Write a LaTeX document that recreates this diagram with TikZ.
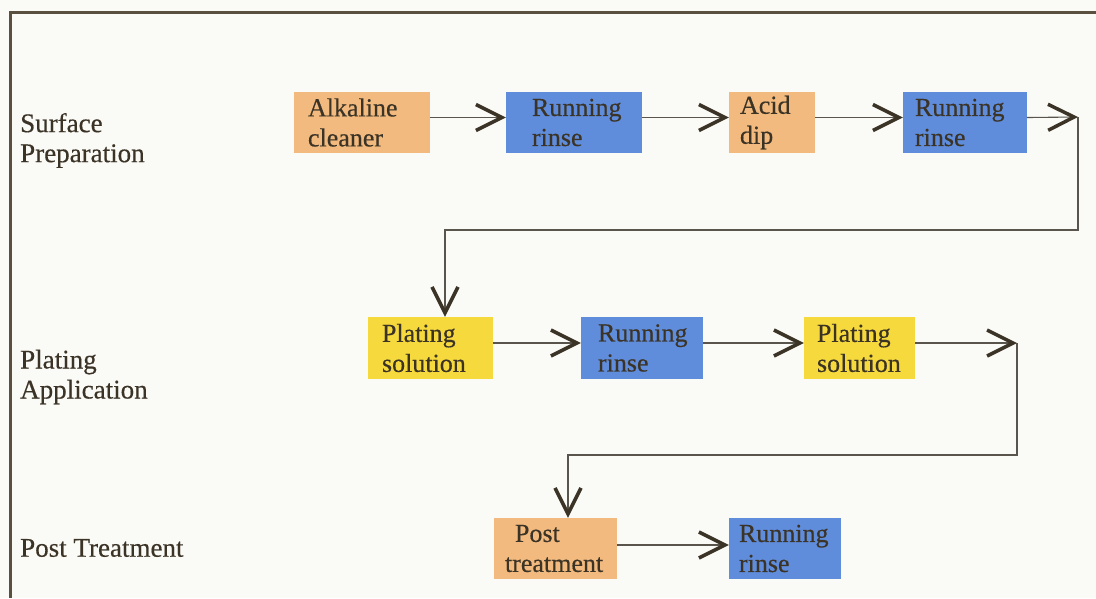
\documentclass[tikz,border=0pt]{standalone}
\usepackage{fontspec}
\setmainfont{Liberation Serif}[FakeBold=0.4]
\usetikzlibrary{arrows.meta,calc}
\definecolor{bg}{HTML}{FAFAF7}
\definecolor{frame}{HTML}{5A5040}
\definecolor{ink}{HTML}{3B3326}
\definecolor{peach}{HTML}{F2BA7E}
\definecolor{bluebox}{HTML}{5F8DDC}
\definecolor{yellowbox}{HTML}{F6D93C}
\definecolor{wire}{HTML}{5A554C}
\tikzset{
  stepbox/.style={minimum height=61pt, inner xsep=11pt, inner ysep=0pt, align=flush left,
    text width=#1, font=\fontsize{26}{30}\selectfont, text=ink, anchor=center},
  cleaner/.style={stepbox=#1, fill=peach},
  rinse/.style={stepbox=#1, fill=bluebox},
  plating/.style={stepbox=#1, fill=yellowbox},
  rowlabel/.style={anchor=west, align=left, font=\fontsize{27}{30}\selectfont, text=ink, inner sep=0pt},
  wireline/.style={draw=wire, line width=1.1pt},
  flow/.style={wireline, -{Straight Barb[length=26pt,width=26pt,line width=3.5pt,color=ink]}}
}
\begin{document}
\begin{tikzpicture}[x=1pt,y=-1pt]
\useasboundingbox (0,0) rectangle (1096,598);
\fill[bg] (0,0) rectangle (1096,598);
\draw[frame, line width=3pt] (1096,12) -- (10,12) -- (10,598);

% row labels
\node[rowlabel] (lab1) at (20,140.5) {Surface\\Preparation};
\node[rowlabel] (lab2) at (20,377) {Plating\\Application};
\node[rowlabel] (lab3) at (20,548) {Post Treatment};

% row 1
\node[cleaner=114pt] (a1) at (362,122.5) {\hspace*{3pt}Alkaline\\\hspace*{3pt}cleaner};
\node[rinse=114pt] (r1) at (574,122.5) {\hspace*{15pt}Running\\\hspace*{15pt}rinse};
\node[cleaner=64pt] (a2) at (772,122.5) {Acid\\dip};
\node[rinse=102pt] (r2) at (965,122.5) {\hspace*{1pt}Running\\\hspace*{1pt}rinse};

% row 2
\node[plating=103pt, minimum height=62pt] (p1) at (430.5,348) {\hspace*{3pt}Plating\\\hspace*{3pt}solution};
\node[rinse=100pt, minimum height=62pt] (r3) at (642,348) {\hspace*{6pt}Running\\\hspace*{6pt}rinse};
\node[plating=89pt, minimum height=62pt] (p2) at (859.5,348) {\hspace*{2pt}Plating\\\hspace*{2pt}solution};

% row 3
\node[cleaner=101pt] (t1) at (555.5,548.5) {\hspace*{10pt}Post\\treatment};
\node[rinse=92pt, inner xsep=10pt] (r4) at (785,548.5) {\mbox{Running}\\rinse};

\coordinate (c1) at (1078,117);
\coordinate (c2) at (1017,343);

% connectors
\draw[flow] ([yshift=5pt]a1.east) -- ([yshift=5pt]r1.west);
\draw[flow] ([yshift=5pt]r1.east) -- ([yshift=5pt]a2.west);
\draw[flow] ([yshift=5pt]a2.east) -- ([yshift=5pt]r2.west);
\draw[flow] ([yshift=5pt]r2.east) -- (c1);
\draw[flow] (c1) -- (1078,230) -- ([xshift=14.5pt]p1.north |- 0,230) -- ([xshift=14.5pt]p1.north);

\draw[flow] ([yshift=5pt]p1.east) -- ([yshift=5pt]r3.west);
\draw[flow] ([yshift=5pt]r3.east) -- ([yshift=5pt]p2.west);
\draw[flow] ([yshift=5pt]p2.east) -- (c2);
\draw[flow] (c2) -- (1017,455) -- ([xshift=12.5pt]t1.north |- 0,455) -- ([xshift=12.5pt]t1.north);

\draw[flow] ([yshift=3.5pt]t1.east) -- ([yshift=3.5pt]r4.west);
\end{tikzpicture}
\end{document}
